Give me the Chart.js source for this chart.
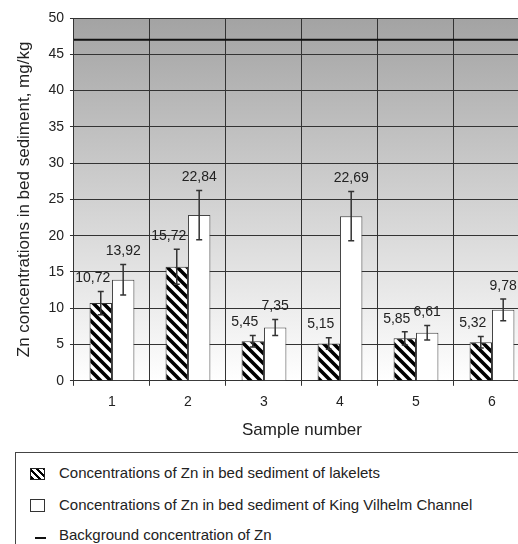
<!DOCTYPE html>
<html>
<head>
<meta charset="utf-8">
<script src="https://cdn.jsdelivr.net/npm/chart.js@4"></script>
<style>
  html, body { margin: 0; padding: 0; background: #fff; overflow: hidden; width: 518px; height: 544px; }
  body { position: relative; font-family: "Liberation Sans", Arial, sans-serif; color: #222; }
  #chart { position: absolute; left: 0; top: 0; }
  #legend { position: absolute; left: 15px; top: 452px; width: 600px; height: 200px; border: 1px solid #444; }
  .row { position: absolute; left: 43px; font-size: 15px; line-height: 18px; white-space: nowrap; }
  .icon { position: absolute; left: 14px; box-sizing: border-box; }
  .hatch { width: 15px; height: 12px; border: 1px solid #222;
    background: repeating-linear-gradient(45deg, #000 0 2.5px, #fff 2.5px 5px); }
  .plain { width: 15px; height: 13px; border: 1px solid #333; background: #fff; }
  .dash { left: 19px; width: 11px; height: 2px; background: #111; }
</style>
</head>
<body>
<canvas id="chart" width="540" height="451"></canvas>
<div id="legend">
  <div class="icon hatch" style="top:15px"></div>
  <div class="row" style="top:11px">Concentrations of Zn in bed sediment of lakelets</div>
  <div class="icon plain" style="top:46px"></div>
  <div class="row" style="top:43px">Concentrations of Zn in bed sediment of King Vilhelm Channel</div>
  <div class="icon dash" style="top:84px"></div>
  <div class="row" style="top:73px">Background concentration of Zn</div>
</div>
<script>
const samples = ['1', '2', '3', '4', '5', '6'];
const lakelets = [10.72, 15.72, 5.45, 5.15, 5.85, 5.32];
const lakeletsErr = [1.6, 2.4, 0.8, 0.8, 0.9, 0.8];
const channel = [13.92, 22.84, 7.35, 22.69, 6.61, 9.78];
const channelErr = [2.1, 3.4, 1.1, 3.4, 1.0, 1.5];
const background = 47;
const yTicks = [0, 5, 10, 15, 20, 25, 30, 35, 40, 45, 50];

const FONT = '"Liberation Sans", Arial, sans-serif';

// diagonal hatch for the lakelets bars
function makeHatch() {
  const s = 10;
  const c = document.createElement('canvas');
  c.width = s; c.height = s;
  const g = c.getContext('2d');
  g.fillStyle = '#fff';
  g.fillRect(0, 0, s, s);
  g.strokeStyle = '#000';
  g.lineWidth = 3.6;
  g.beginPath();
  g.moveTo(-s, 0); g.lineTo(s, 2 * s);
  g.moveTo(0, 0); g.lineTo(s, s);
  g.moveTo(0, -s); g.lineTo(2 * s, s);
  g.stroke();
  return document.getElementById('chart').getContext('2d').createPattern(c, 'repeat');
}

const errs = [lakeletsErr, channelErr];
const labelShift = [-8, 0];

const extras = {
  id: 'extras',
  beforeDraw(chart) {
    const { ctx, chartArea: a } = chart;
    const grad = ctx.createLinearGradient(0, a.top, 0, a.bottom);
    grad.addColorStop(0, '#a3a3a3');
    grad.addColorStop(1, '#ffffff');
    ctx.save();
    ctx.fillStyle = grad;
    ctx.fillRect(a.left, a.top, a.right - a.left, a.bottom - a.top);
    ctx.restore();
  },
  afterDatasetsDraw(chart) {
    const { ctx, chartArea: a } = chart;
    const y = chart.scales.y;
    ctx.save();
    // background concentration line
    ctx.strokeStyle = '#111';
    ctx.lineWidth = 2;
    ctx.beginPath();
    ctx.moveTo(a.left, y.getPixelForValue(background));
    ctx.lineTo(a.right, y.getPixelForValue(background));
    ctx.stroke();

    chart.data.datasets.forEach((ds, di) => {
      const meta = chart.getDatasetMeta(di);
      meta.data.forEach((bar, i) => {
        const v = ds.data[i], e = errs[di][i];
        const top = y.getPixelForValue(v + e);
        const bot = y.getPixelForValue(v - e);
        ctx.strokeStyle = '#333';
        ctx.lineWidth = 1.5;
        ctx.beginPath();
        ctx.moveTo(bar.x, top); ctx.lineTo(bar.x, bot);
        ctx.moveTo(bar.x - 3, top); ctx.lineTo(bar.x + 3, top);
        ctx.moveTo(bar.x - 3, bot); ctx.lineTo(bar.x + 3, bot);
        ctx.stroke();

        ctx.fillStyle = '#222';
        ctx.font = '14px ' + FONT;
        ctx.textAlign = 'center';
        ctx.textBaseline = 'middle';
        ctx.fillText(v.toFixed(2).replace('.', ','), bar.x + labelShift[di], top - 13);
      });
    });
    ctx.restore();
  }
};

new Chart(document.getElementById('chart'), {
  type: 'bar',
  data: {
    labels: samples,
    datasets: [
      {
        label: 'Concentrations of Zn in bed sediment of lakelets',
        data: lakelets,
        backgroundColor: makeHatch(),
        borderColor: '#333',
        borderWidth: 1
      },
      {
        label: 'Concentrations of Zn in bed sediment of King Vilhelm Channel',
        data: channel,
        backgroundColor: '#fff',
        borderColor: '#444',
        borderWidth: 1
      }
    ]
  },
  options: {
    responsive: false,
    animation: false,
    devicePixelRatio: 1,
    categoryPercentage: 0.59,
    barPercentage: 1,
    layout: { padding: { left: 10, top: 18, right: 10, bottom: 6 } },
    plugins: { legend: { display: false }, tooltip: { enabled: false } },
    scales: {
      x: {
        grid: { color: '#333', lineWidth: 1, tickLength: 5, offset: true },
        border: { color: '#333', width: 1 },
        ticks: { color: '#222', font: { size: 14, family: FONT }, padding: 8 },
        title: { display: true, text: 'Sample number', color: '#222',
          font: { size: 17, family: FONT }, padding: { top: 2, bottom: 4 } }
      },
      y: {
        min: 0,
        max: 50,
        afterBuildTicks(scale) { scale.ticks = yTicks.map(v => ({ value: v })); },
        grid: { color: '#333', lineWidth: 1, tickLength: 4 },
        border: { color: '#333', width: 1 },
        ticks: { color: '#222', font: { size: 14, family: FONT }, padding: 6 },
        title: { display: true, text: 'Zn concentrations in bed sediment, mg/kg', color: '#222',
          font: { size: 17, family: FONT }, padding: { top: 4, bottom: 8 } }
      }
    }
  },
  plugins: [extras]
});
</script>
</body>
</html>
